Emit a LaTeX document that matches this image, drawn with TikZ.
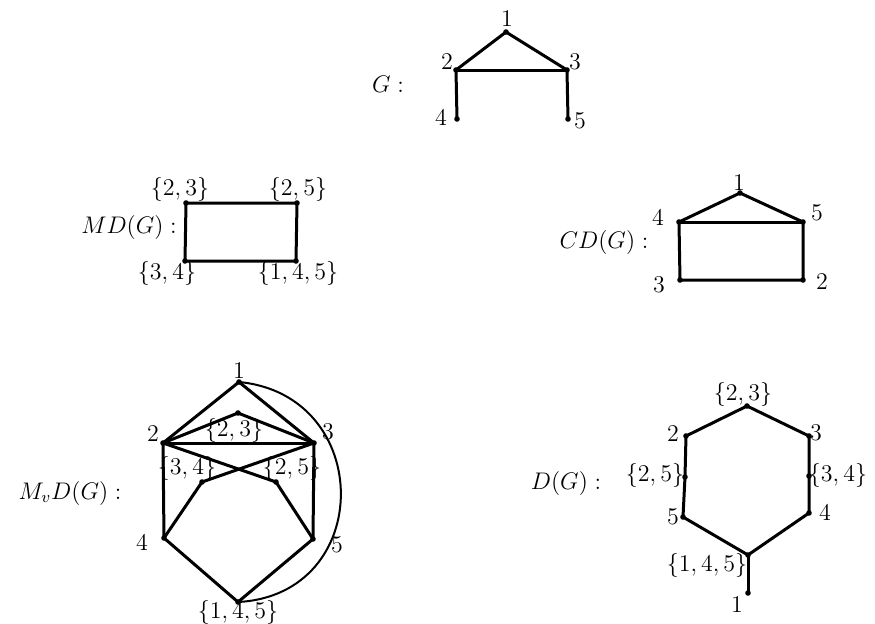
\documentclass[tikz,border=0pt]{standalone}
\usepackage{amsmath, amssymb}
\usepackage{tikz}
\usetikzlibrary{positioning}

\begin{document}
\begin{tikzpicture}[x=0.5pt, y=-0.5pt,
		vtx/.style={circle, fill=black, inner sep=0pt, minimum size=2.8pt},
		edge/.style={line width=1.5pt, line join=round},
		lbl/.style={inner sep=0pt, font=\large}]
			\useasboundingbox (0,0) rectangle (875,623);
			
			% G
			\node[vtx] (g1) at (506,32)  {};
			\node[vtx] (g2) at (456,70)  {};
			\node[vtx] (g3) at (567,70)  {};
			\node[vtx] (g4) at (457,119) {};
			\node[vtx] (g5) at (568,119) {};
			\draw[edge] (g4.center) -- (g2.center) -- (g1.center) -- (g3.center) -- (g5.center);
			\draw[edge] (g2.center) -- (g3.center);
			
			\node[lbl] (tG) at (388,84) {$G:$};
			\node[lbl] (lg1) at (507,19)  {$1$};
			\node[lbl] (lg2) at (447,62)  {$2$};
			\node[lbl] (lg3) at (575,62)  {$3$};
			\node[lbl] (lg4) at (441,118) {$4$};
			\node[lbl] (lg5) at (580,121) {$5$};
			
			% MD(G)
			\node[vtx] (m23)  at (186,203) {};
			\node[vtx] (m25)  at (297,203) {};
			\node[vtx] (m34)  at (185,261) {};
			\node[vtx] (m145) at (296,261) {};
			\draw[edge] (m23.center) -- (m25.center) -- (m145.center) -- (m34.center) -- cycle;
			
			\node[lbl] (tMD) at (129,227) {$MD(G):$};
			\node[lbl] (lm23)  at (180,189) {$\{2,3\}$};
			\node[lbl] (lm25)  at (298,189) {$\{2,5\}$};
			\node[lbl] (lm34)  at (167,273) {$\{3,4\}$};
			\node[lbl] (lm145) at (298,273) {$\{1,4,5\}$};
			
			% CD(G)
			\node[vtx] (c1) at (740,193) {};
			\node[vtx] (c4) at (679,222) {};
			\node[vtx] (c5) at (803,222) {};
			\node[vtx] (c3) at (680,280) {};
			\node[vtx] (c2) at (803,280) {};
			\draw[edge] (c4.center) -- (c1.center) -- (c5.center) -- (c2.center) -- (c3.center) -- cycle;
			\draw[edge] (c4.center) -- (c5.center);
			
			\node[lbl] (tCD) at (604,242) {$CD(G):$};
			\node[lbl] (lc1) at (739,183) {$1$};
			\node[lbl] (lc4) at (658,218) {$4$};
			\node[lbl] (lc5) at (817,213) {$5$};
			\node[lbl] (lc3) at (659,285) {$3$};
			\node[lbl] (lc2) at (822,282) {$2$};
			
			% M_vD(G)
			\node[vtx] (v1)   at (239,382) {};
			\node[vtx] (v23)  at (238,413) {};
			\node[vtx] (v2)   at (163,443) {};
			\node[vtx] (v3)   at (314,443) {};
			\node[vtx] (v34)  at (202,482) {};
			\node[vtx] (v25)  at (276,482) {};
			\node[vtx] (v4)   at (164,538) {};
			\node[vtx] (v5)   at (313,539) {};
			\node[vtx] (v145) at (238,602) {};
			\draw[edge] (v2.center) -- (v1.center) -- (v3.center);
			\draw[edge] (v2.center) -- (v23.center) -- (v3.center);
			\draw[edge] (v2.center) -- (v3.center);
			\draw[edge] (v2.center) -- (v4.center);
			\draw[edge] (v3.center) -- (v5.center);
			\draw[edge] (v2.center) -- (v25.center) -- (v5.center);
			\draw[edge] (v3.center) -- (v34.center) -- (v4.center);
			\draw[edge] (v4.center) -- (v145.center) -- (v5.center);
			\draw[line width=1pt] (v1.center) .. controls (375,395) and (375,595) .. (v145.center);
			
			\node[lbl] (tMvD) at (70,493) {$M_vD(G):$};
			\node[lbl] (lv1)   at (239,371) {$1$};
			\node[lbl] (lv2)   at (153,434) {$2$};
			\node[lbl] (lv3)   at (328,432) {$3$};
			\node[lbl] (lv23)  at (234,430) {$\{2,3\}$};
			\node[lbl] (lv34)  at (187,468) {$\{3,4\}$};
			\node[lbl] (lv25)  at (292,468) {$\{2,5\}$};
			\node[lbl] (lv4)   at (142,543) {$4$};
			\node[lbl] (lv5)   at (337,545) {$5$};
			\node[lbl] (lv145) at (238,612) {$\{1,4,5\}$};
			
			% D(G)
			\node[vtx] (d23)  at (747,406) {};
			\node[vtx] (d2)   at (686,436) {};
			\node[vtx] (d3)   at (809,436) {};
			\node[vtx] (d25)  at (685,477) {};
			\node[vtx] (d34)  at (809,476) {};
			\node[vtx] (d5)   at (683,517) {};
			\node[vtx] (d4)   at (809,513) {};
			\node[vtx] (d145) at (748,555) {};
			\node[vtx] (d1)   at (748,593) {};
			\draw[edge] (d23.center) -- (d2.center) -- (d25.center) -- (d5.center) -- (d145.center)
				-- (d4.center) -- (d34.center) -- (d3.center) -- cycle;
			\draw[edge] (d145.center) -- (d1.center);
			
			\node[lbl] (tD) at (566,483) {$D(G):$};
			\node[lbl] (ld23)  at (743,394) {$\{2,3\}$};
			\node[lbl] (ld2)   at (673,434) {$2$};
			\node[lbl] (ld3)   at (816,433) {$3$};
			\node[lbl] (ld25)  at (655,475) {$\{2,5\}$};
			\node[lbl] (ld34)  at (838,475) {$\{3,4\}$};
			\node[lbl] (ld5)   at (673,517) {$5$};
			\node[lbl] (ld4)   at (825,513) {$4$};
			\node[lbl] (ld145) at (707,565) {$\{1,4,5\}$};
			\node[lbl] (ld1)   at (737,605) {$1$};
			
		\end{tikzpicture}
\end{document}
